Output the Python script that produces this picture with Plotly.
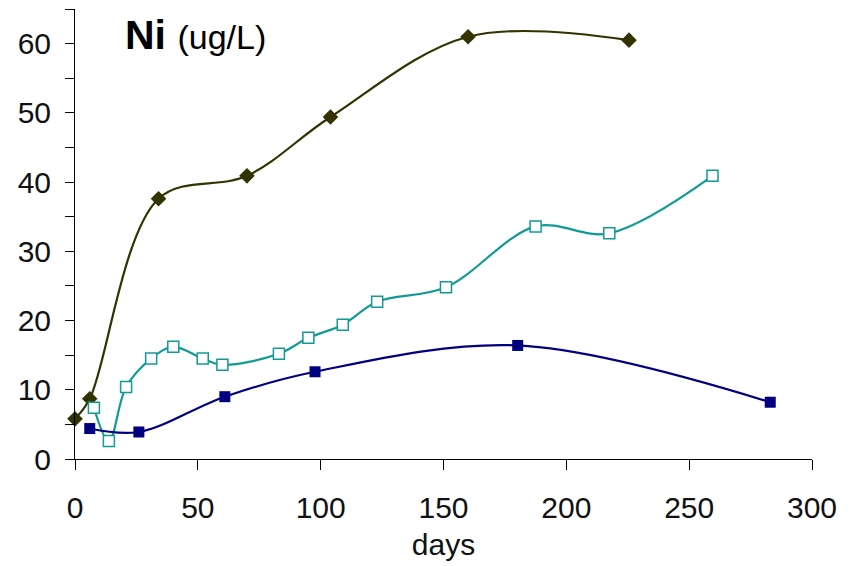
import plotly.graph_objects as go

# Olive series (filled diamonds)
olive_days = [0, 6, 34, 70, 104, 160, 225.5]
olive_ni = [5.8, 8.7, 37.6, 40.9, 49.4, 61.0, 60.5]

# Teal series (open squares)
teal_days = [7.7, 13.8, 20.8, 31, 40, 52, 60, 83, 95, 109, 123, 151, 187.5, 217.5, 259.5]
teal_ni = [7.4, 2.6, 10.4, 14.5, 16.2, 14.5, 13.6, 15.2, 17.5, 19.4, 22.7, 24.8, 33.6, 32.6, 40.9]

# Navy series (filled squares)
navy_days = [6, 26, 61, 97.7, 180.2, 283]
navy_ni = [4.4, 3.9, 9.0, 12.6, 16.4, 8.2]

x_ticks = [0, 50, 100, 150, 200, 250, 300]
y_tickvals = [0, 5, 10, 15, 20, 25, 30, 35, 40, 45, 50, 55, 60, 65]
y_ticktext = ["0", "", "10", "", "20", "", "30", "", "40", "", "50", "", "60", ""]

OLIVE = "#333300"
TEAL = "#129a96"
NAVY = "#000080"

fig = go.Figure()
fig.add_trace(go.Scatter(
    x=olive_days, y=olive_ni, mode="lines+markers",
    line=dict(color=OLIVE, width=2.2, shape="spline", smoothing=1.0),
    marker=dict(symbol="diamond", size=12, color=OLIVE),
    cliponaxis=False, showlegend=False))
fig.add_trace(go.Scatter(
    x=teal_days, y=teal_ni, mode="lines+markers",
    line=dict(color=TEAL, width=2.2, shape="spline", smoothing=1.0),
    marker=dict(symbol="square", size=11, color="white", line=dict(color=TEAL, width=1.5)),
    cliponaxis=False, showlegend=False))
fig.add_trace(go.Scatter(
    x=navy_days, y=navy_ni, mode="lines+markers",
    line=dict(color=NAVY, width=2.2, shape="spline", smoothing=1.0),
    marker=dict(symbol="square", size=11, color=NAVY),
    cliponaxis=False, showlegend=False))

font_family = "Liberation Sans, Arial, sans-serif"

L, R, T, B = 75, 46, 9, 107
W, H = 858, 566

fig.update_layout(
    width=W, height=H,
    margin=dict(l=L, r=R, t=T, b=B, autoexpand=False),
    paper_bgcolor="white", plot_bgcolor="white",
    font=dict(family=font_family, size=30, color="black"),
    xaxis=dict(
        range=[0, 300], tickvals=x_ticks, ticks="outside", ticklen=10, tickwidth=1,
        tickcolor="black", showline=True, linecolor="black", linewidth=1,
        showgrid=False, zeroline=False, tickfont=dict(size=30, color="#111111"),
        ticklabelstandoff=12,
        title=dict(text="days", font=dict(size=30, color="#111111"), standoff=10),
    ),
    yaxis=dict(
        range=[0, 65], tickvals=y_tickvals, ticktext=y_ticktext, ticks="outside",
        ticklen=9, tickwidth=1, tickcolor="black", showline=True, linecolor="black",
        linewidth=1, showgrid=False, zeroline=False, tickfont=dict(size=30, color="#111111"),
        ticklabelstandoff=8,
    ),
    annotations=[dict(
        x=(123 - L) / (W - L - R), y=(H - B - 35) / (H - B - T),
        xref="paper", yref="paper", showarrow=False,
        xanchor="left", yanchor="middle",
        text="<b>Ni</b> <span style='font-size:34px'>(ug/L)</span>",
        font=dict(size=41, color="black", family=font_family),
    )],
)

fig.write_html("out.html")
